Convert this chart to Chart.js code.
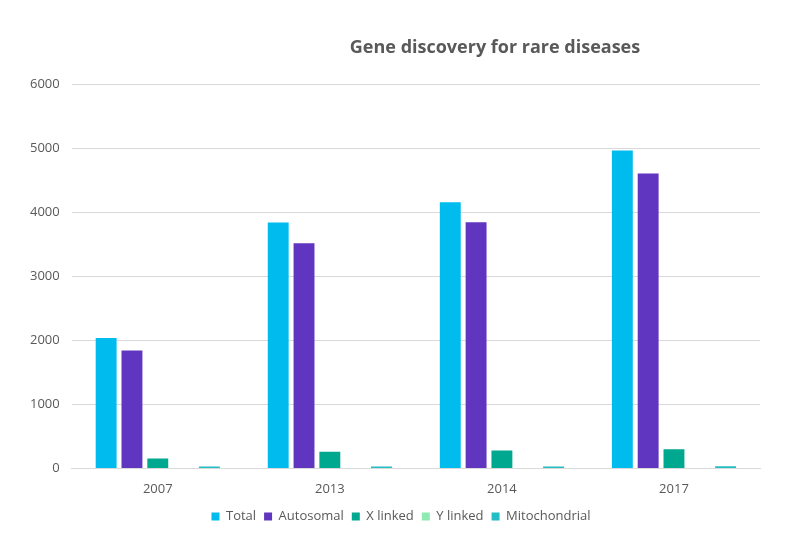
<!DOCTYPE html>
<html>
<head>
<meta charset="utf-8">
<script src="https://cdn.jsdelivr.net/npm/chart.js@4.4.1/dist/chart.umd.min.js"></script>
<style>
  html, body { margin: 0; padding: 0; background: #ffffff; }
  #wrap { position: relative; width: 797px; height: 538px; }
</style>
</head>
<body>
<div id="wrap"><canvas id="c" width="797" height="538"></canvas></div>
<script>
const categories = ["2007", "2013", "2014", "2017"];
const totalValues = [2040, 3845, 4160, 4970];
const autosomalValues = [1845, 3520, 3850, 4610];
const xLinkedValues = [155, 260, 280, 300];
const yLinkedValues = [0, 0, 0, 0];
const mitochondrialValues = [28, 30, 30, 35];
const yTicks = [0, 1000, 2000, 3000, 4000, 5000, 6000];

const textColor = "#595959";
const fontFamily = "'Open Sans', 'DejaVu Sans', sans-serif";

const shiftBlocks = {
  id: "shiftBlocks",
  afterLayout(chart) {
    const t = chart.titleBlock;
    if (t) { t.left += 106; t.right += 106; }
    const l = chart.legend;
    if (l) { l.left += 12; l.right += 12; }
  }
};

new Chart(document.getElementById("c"), {
  type: "bar",
  data: {
    labels: categories,
    datasets: [
      { label: "Total", data: totalValues, backgroundColor: "#00BCEE" },
      { label: "Autosomal", data: autosomalValues, backgroundColor: "#6035BF" },
      { label: "X linked", data: xLinkedValues, backgroundColor: "#00A88F" },
      { label: "Y linked", data: yLinkedValues, backgroundColor: "#8EEAB2" },
      { label: "Mitochondrial", data: mitochondrialValues, backgroundColor: "#23BDC4" }
    ]
  },
  options: {
    responsive: false,
    animation: false,
    devicePixelRatio: 1,
    layout: { padding: { left: 18, right: 37, top: 37, bottom: 5 } },
    datasets: { bar: { categoryPercentage: 0.75, barPercentage: 0.81 } },
    plugins: {
      title: {
        display: true,
        text: "Gene discovery for rare diseases",
        color: textColor,
        font: { family: fontFamily, size: 18, weight: "bold" },
        padding: { top: 0, bottom: 26 }
      },
      legend: {
        position: "bottom",
        labels: {
          color: textColor,
          font: { family: fontFamily, size: 13 },
          boxWidth: 8,
          boxHeight: 8,
          padding: 8
        }
      },
      tooltip: { enabled: false }
    },
    scales: {
      x: {
        afterFit(axis) { axis.height -= 8; },
        grid: { display: false, drawTicks: false },
        border: { display: true, color: "#D9D9D9" },
        ticks: { color: textColor, font: { family: fontFamily, size: 13 }, padding: 13 }
      },
      y: {
        min: 0,
        max: 6000,
        afterBuildTicks(axis) { axis.ticks = yTicks.map(v => ({ value: v })); },
        grid: { color: "#D9D9D9", drawTicks: false },
        border: { display: false },
        ticks: {
          color: textColor,
          font: { family: fontFamily, size: 13 },
          padding: 12,
          callback: (v) => String(v)
        }
      }
    }
  },
  plugins: [shiftBlocks]
});
</script>
</body>
</html>
